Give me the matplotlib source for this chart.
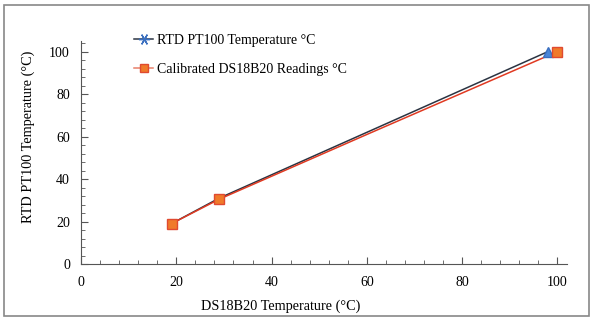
import matplotlib
matplotlib.use("Agg")
import matplotlib.pyplot as plt
from matplotlib.lines import Line2D
from matplotlib.patches import Rectangle

# readings
ds_temp_rtd = [19, 29, 60, 98]
rtd_temp = [19, 31, 62, 100]
ds_temp_cal = [19, 29, 60, 100]
cal_temp = [19, 30.5, 61, 100]

plt.rcParams['font.family'] = ['Liberation Serif', 'DejaVu Serif']

fig = plt.figure(figsize=(5.93, 3.2), dpi=100)
ax = fig.add_axes([81/593, 56/320, 486/593, 223/320])

ax.plot(ds_temp_rtd, rtd_temp, color='#2b3442', lw=1.1, zorder=3)
ax.plot(ds_temp_rtd[-1:], rtd_temp[-1:], ls='none', marker='^', ms=7,
        mfc='#4a86d8', mec='#3a6fc0', zorder=4)
ax.plot(ds_temp_cal, cal_temp, color='#e03a22', lw=1.1, zorder=3)
ax.plot(ds_temp_cal[:2] + ds_temp_cal[-1:], cal_temp[:2] + cal_temp[-1:],
        ls='none', marker='s', ms=6.5, mfc='#f07a2a', mec='#e04a30', zorder=5)

ax.set_xlim(0, 102)
ax.set_ylim(0, 105)
ax.set_xticks(range(0, 101, 20))
ax.set_yticks(range(0, 101, 20))
ax.set_xticks(range(0, 101, 4), minor=True)
ax.set_yticks(range(0, 105, 4), minor=True)
ax.tick_params(which='both', direction='in', colors='#555555', labelcolor='black',
               labelsize=10)
ax.tick_params(which='major', length=5)
ax.tick_params(which='minor', length=3)
ax.tick_params(axis='x', pad=9)
ax.tick_params(axis='y', pad=8)
for s in ['top', 'right']:
    ax.spines[s].set_visible(False)
for s in ['left', 'bottom']:
    ax.spines[s].set_color('#555555')

ax.set_xlabel('DS18B20 Temperature (°C)', fontsize=10.3)
ax.set_ylabel('RTD PT100 Temperature (°C)', fontsize=10.3)
ax.xaxis.set_label_coords((281 - 81) / 486, -(300 - 264) / 223)
ax.yaxis.set_label_coords(-(81 - 35) / 486, (264 - 137) / 223)

handles = [
    Line2D([], [], color='#2b3442', lw=1.1, marker=(6, 2, 90), ms=8,
           mec='#3a6fc0'),
    Line2D([], [], color='#e8806a', lw=1.1, marker='s', ms=6,
           mfc='#f07a2a', mec='#e04a30'),
]
ax.legend(handles, ['RTD PT100 Temperature °C', 'Calibrated DS18B20 Readings °C'],
          loc='upper left', bbox_to_anchor=(0.083, 1.088), frameon=False,
          fontsize=10, labelspacing=1.16, handlelength=1.4, handletextpad=0.3)

fig.patches.append(Rectangle((4/593, 4/320), 585/593, 311/320, fill=False,
                             edgecolor='#888888', lw=1.2,
                             transform=fig.transFigure, figure=fig))

fig.savefig('out.png', dpi=100)
